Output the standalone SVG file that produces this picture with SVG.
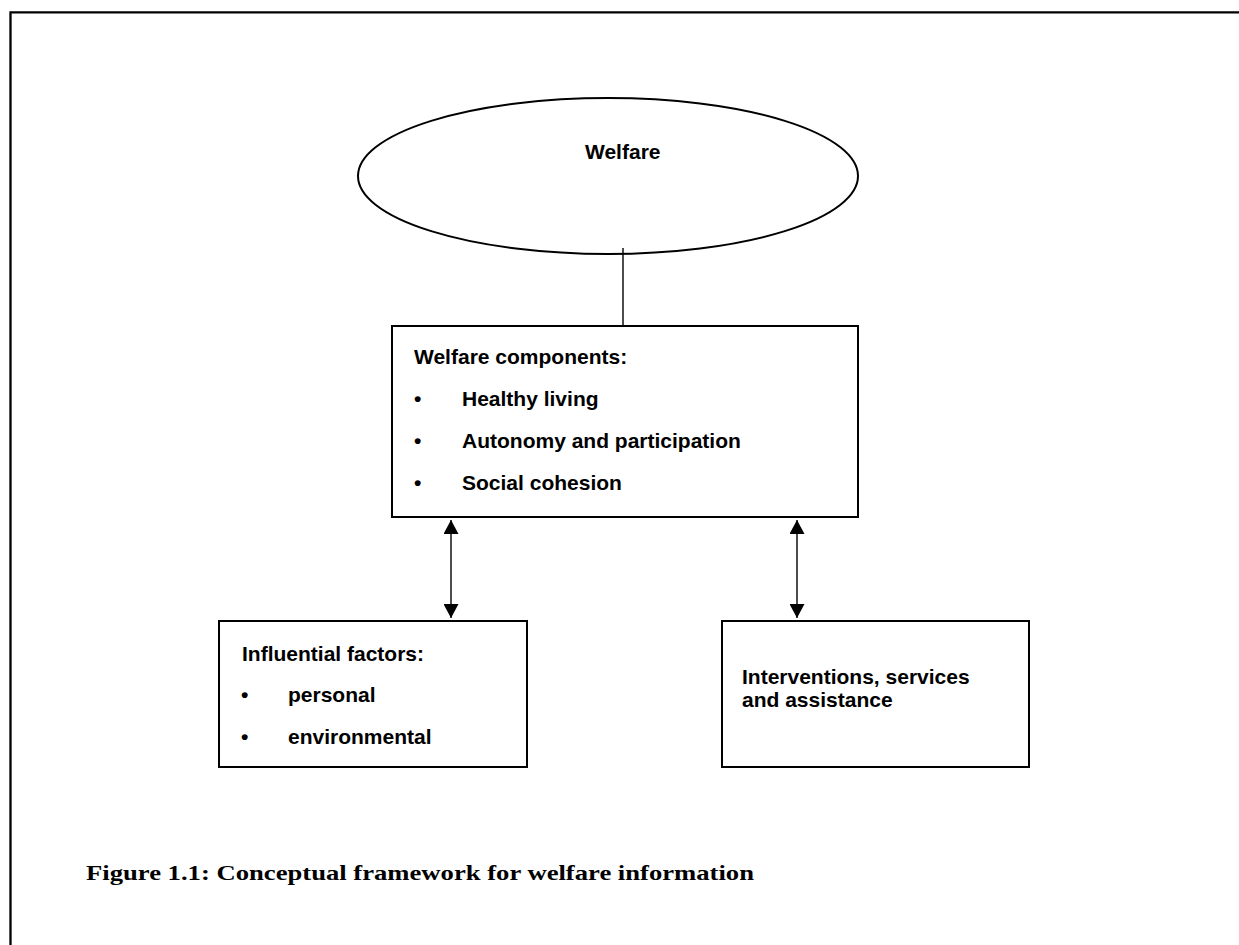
<svg xmlns="http://www.w3.org/2000/svg" width="1239" height="945" viewBox="0 0 1239 945">
  <style>
    .box { fill: #ffffff; stroke: #000000; stroke-width: 2; }
    .lbl { font-family: "Liberation Sans", Arial, sans-serif; font-weight: bold; font-size: 21px; fill: #000000; }
    .cap { font-family: "Liberation Serif", "Times New Roman", serif; font-weight: bold; font-size: 21px; fill: #000000; }
    .conn { stroke: #000000; stroke-width: 1.4; fill: none; }
  </style>
  <defs>
    <marker id="arr" viewBox="0 0 14 15" refX="14" refY="7.5" markerWidth="14" markerHeight="15" markerUnits="userSpaceOnUse" orient="auto-start-reverse">
      <path d="M0,0 L14,7.5 L0,15 Z" fill="#000000"/>
    </marker>
  </defs>
  <rect x="0" y="0" width="1239" height="945" fill="#ffffff"/>
  <g id="frame">
    <path d="M10.5,945 L10.5,12.3 L1239,12.3" fill="none" stroke="#000000" stroke-width="2.3"/>
  </g>
  <g id="connectors">
    <line class="conn" x1="623" y1="248" x2="623" y2="326"/>
    <line class="conn" x1="451" y1="520" x2="451" y2="618" marker-start="url(#arr)" marker-end="url(#arr)"/>
    <line class="conn" x1="797" y1="520" x2="797" y2="618" marker-start="url(#arr)" marker-end="url(#arr)"/>
  </g>
  <g id="welfare">
    <ellipse cx="608" cy="176" rx="250" ry="78" fill="none" stroke="#000000" stroke-width="2"/>
    <text class="lbl" x="585" y="159" font-size="19">Welfare</text>
  </g>
  <g id="welfare-components">
    <rect class="box" x="392" y="326" width="466" height="191"/>
    <text class="lbl" x="414" y="364">Welfare components:</text>
    <text class="lbl" x="414" y="406">•</text>
    <text class="lbl" x="462" y="406">Healthy living</text>
    <text class="lbl" x="414" y="448">•</text>
    <text class="lbl" x="462" y="448">Autonomy and participation</text>
    <text class="lbl" x="414" y="490">•</text>
    <text class="lbl" x="462" y="490">Social cohesion</text>
  </g>
  <g id="influential-factors">
    <rect class="box" x="219" y="621" width="308" height="146"/>
    <text class="lbl" x="242" y="661">Influential factors:</text>
    <text class="lbl" x="241" y="702">•</text>
    <text class="lbl" x="288" y="702">personal</text>
    <text class="lbl" x="241" y="744">•</text>
    <text class="lbl" x="288" y="744">environmental</text>
  </g>
  <g id="interventions">
    <rect class="box" x="722" y="621" width="307" height="146"/>
    <text class="lbl" x="742" y="684">Interventions, services</text>
    <text class="lbl" x="742" y="707">and assistance</text>
  </g>
  <g id="caption">
    <text class="cap" x="86" y="880" textLength="668" lengthAdjust="spacingAndGlyphs">Figure 1.1: Conceptual framework for welfare information</text>
  </g>
</svg>
